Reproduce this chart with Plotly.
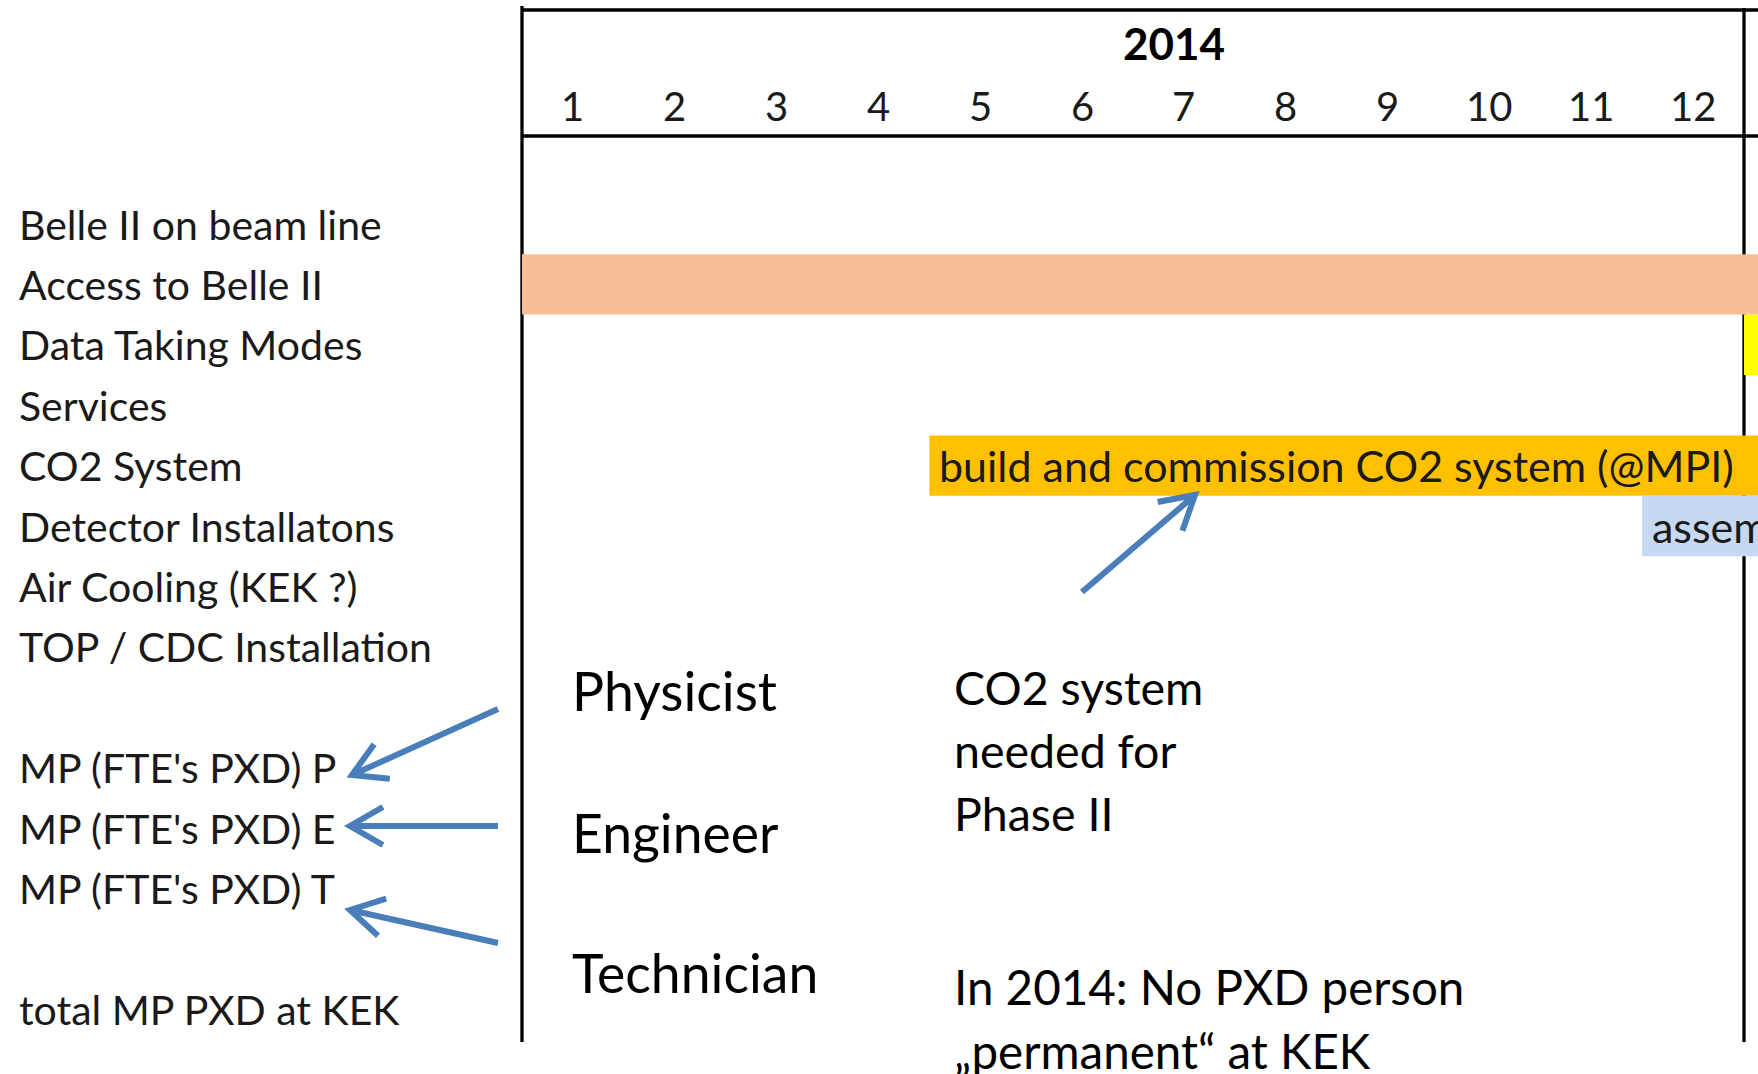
import math
import plotly.graph_objects as go

# ---------------- data ----------------
year_label = "2014"
months = list(range(1, 13))
month_labels = [str(m) for m in months]

rows = [
    "Belle II on beam line",
    "Access to Belle II",
    "Data Taking Modes",
    "Services",
    "CO2 System",
    "Detector Installatons",
    "Air Cooling (KEK ?)",
    "TOP / CDC Installation",
    "",
    "MP (FTE's PXD) P",
    "MP (FTE's PXD) E",
    "MP (FTE's PXD) T",
    "",
    "total MP PXD at KEK",
]

task_rows = ["Access to Belle II", "Data Taking Modes", "CO2 System", "Detector Installatons"]
task_start = [1, 13, 5, 12]      # first month of the activity
task_end = [15, 15, 15, 15]      # last month (continues into 2015, off the visible range)
task_text = ["", "", "build and commission CO2 system (@MPI)", "assembly"]
task_colors = ["#F8BF97", "#FFFF00", "#FFC000", "#C6D9F1"]

roles = ["Physicist", "Engineer", "Technician"]
note_co2 = ["CO2 system", "needed for", "Phase II"]
note_2014 = ["In 2014: No PXD person", "\u201epermanent\u201c at KEK"]

# ---------------- layout helpers ----------------
W, H = 1758, 1074
FONT = "Lato"
TXT = "#1a1a1a"
ARROW = "#4A7EBB"

# x axis: month k occupies [k-0.5, k+0.5]; 0.5 -> 522 px, 12.5 -> 1744 px
px_per_month = (1744 - 522) / 12.0
x0 = 0.5 - 522 / px_per_month
x1 = x0 + W / px_per_month
# y axis: row i centred at 224 + 60.4*i px
px_per_row = 60.4
y_top = -224 / px_per_row
y_bot = (H - 224) / px_per_row


def px(x):
    return x / W


def py(y):
    return 1 - y / H


fig = go.Figure()

for r, s, e, c in zip(task_rows, task_start, task_end, task_colors):
    fig.add_trace(go.Bar(
        orientation="h",
        y=[rows.index(r)],
        x=[e - s + 1],
        base=[s - 0.5],
        width=1.0,
        marker=dict(color=c, line=dict(width=0)),
        hoverinfo="skip",
        showlegend=False,
    ))

annotations = []

# header
annotations.append(dict(x=6.9, y=py(43), xref="x", yref="paper", text="<b>" + year_label + "</b>",
                        showarrow=False, xanchor="center", yanchor="middle",
                        font=dict(family=FONT, size=44, color="#000000")))
for m, lab in zip(months, month_labels):
    annotations.append(dict(x=m, y=py(106), xref="x", yref="paper", text=lab,
                            showarrow=False, xanchor="center", yanchor="middle",
                            font=dict(family=FONT, size=40, color=TXT)))

# row labels
for i, lab in enumerate(rows):
    if lab:
        annotations.append(dict(x=px(17), y=i, xref="paper", yref="y", text=lab,
                                showarrow=False, xanchor="left", yanchor="middle",
                                font=dict(family=FONT, size=41, color=TXT)))

# bar texts
for r, s, t in zip(task_rows, task_start, task_text):
    if t:
        annotations.append(dict(x=s - 0.5, y=rows.index(r), xref="x", yref="y", text=t,
                                showarrow=False, xanchor="left", yanchor="middle", xshift=8,
                                font=dict(family=FONT, size=43, color=TXT)))

# free texts
for lab, yy in zip(roles, [690, 832, 972]):
    annotations.append(dict(x=px(570), y=py(yy), xref="paper", yref="paper", text=lab,
                            showarrow=False, xanchor="left", yanchor="middle",
                            font=dict(family=FONT, size=53.5, color="#000000")))
for lab, yy in zip(note_co2, [687, 750, 813]):
    annotations.append(dict(x=px(952), y=py(yy), xref="paper", yref="paper", text=lab,
                            showarrow=False, xanchor="left", yanchor="middle",
                            font=dict(family=FONT, size=46.5, color="#000000")))
for lab, yy in zip(note_2014, [987, 1050]):
    annotations.append(dict(x=px(952), y=py(yy), xref="paper", yref="paper", text=lab,
                            showarrow=False, xanchor="left", yanchor="middle",
                            font=dict(family=FONT, size=47.5, color="#000000")))

shapes = []
# table lines
line = dict(color="#000000", width=3.3)
shapes.append(dict(type="line", xref="x", yref="paper", x0=0.5, x1=x1 + 1, y0=py(10), y1=py(10), line=line, layer="below"))
shapes.append(dict(type="line", xref="x", yref="paper", x0=0.5, x1=x1 + 1, y0=py(136), y1=py(136), line=line, layer="below"))
shapes.append(dict(type="line", xref="x", yref="paper", x0=0.5, x1=0.5, y0=py(6), y1=py(1042), line=line, layer="below"))
shapes.append(dict(type="line", xref="x", yref="paper", x0=12.5, x1=12.5, y0=py(8), y1=py(1042), line=line, layer="below"))

# arrows (tail, tip) in pixels
arrows = [((1082, 592), (1195, 495)),
          ((498, 709), (352, 775)),
          ((498, 826), (350, 826)),
          ((498, 943), (350, 910))]
L, th = 38, math.radians(30)
for (tx, ty), (hx, hy) in arrows:
    d = math.hypot(hx - tx, hy - ty)
    dx, dy = (hx - tx) / d, (hy - ty) / d
    arms = []
    for a in (th, -th):
        rx = math.cos(a) * dx - math.sin(a) * dy
        ry = math.sin(a) * dx + math.cos(a) * dy
        arms.append((hx - L * rx, hy - L * ry))
    path = (f"M {px(tx)},{py(ty)} L {px(hx)},{py(hy)} "
            f"M {px(arms[0][0])},{py(arms[0][1])} L {px(hx)},{py(hy)} L {px(arms[1][0])},{py(arms[1][1])}")
    shapes.append(dict(type="path", xref="paper", yref="paper", path=path,
                       line=dict(color=ARROW, width=6)))

fig.update_layout(
    width=W, height=H,
    margin=dict(l=0, r=0, t=0, b=0),
    paper_bgcolor="white", plot_bgcolor="white",
    xaxis=dict(range=[x0, x1], visible=False, fixedrange=True),
    yaxis=dict(range=[y_bot, y_top], visible=False, fixedrange=True),
    barmode="overlay",
    annotations=annotations,
    shapes=shapes,
    showlegend=False,
)

fig.write_html("out.html", config={"displayModeBar": False},
               post_script="document.body.style.margin='0';document.body.style.overflow='hidden';")
